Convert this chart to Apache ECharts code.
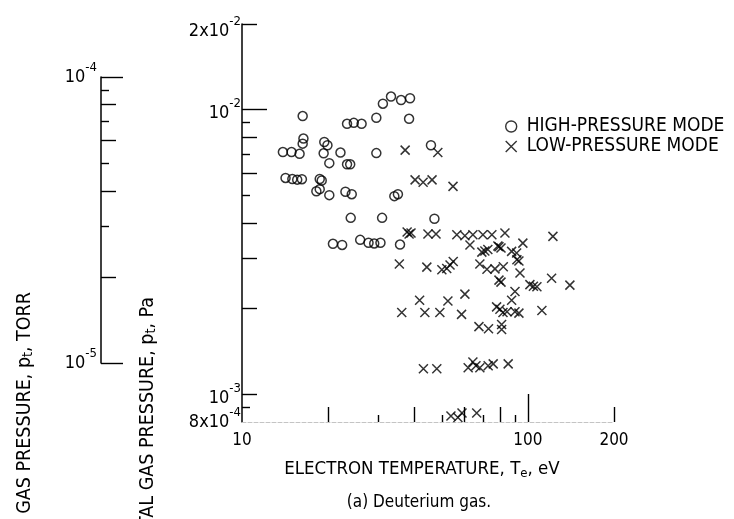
<!DOCTYPE html>
<html>
<head>
<meta charset="utf-8">
<script src="https://cdn.jsdelivr.net/npm/echarts@6/dist/echarts.min.js"></script>
<style>
  html, body { margin: 0; padding: 0; background: #fff; }
  #chart { width: 734px; height: 519px; }
</style>
</head>
<body>
<div id="chart"></div>
<script>
// high-pressure mode (circles): electron temperature eV, total pressure Pa
const hpTemp = [33.2, 31.1, 36.0, 38.7, 29.5, 38.4, 16.3, 23.3, 24.6, 26.2,
  16.4, 16.3, 13.9, 14.9, 15.9, 19.4, 19.9, 19.3, 22.1, 20.2,
  23.3, 23.9, 29.5, 45.8, 14.2, 15.0, 15.6, 16.2, 18.7, 19.0,
  18.2, 18.7, 20.2, 23.0, 24.2, 34.1, 35.1, 24.0, 30.9, 47.1,
  20.8, 22.4, 25.9, 27.7, 29.0, 30.5, 35.7];
const hpPressure = [0.01112, 0.0105, 0.01081, 0.01097, 0.00937, 0.00929, 0.0095, 0.00892, 0.00899, 0.00892,
  0.00792, 0.0076, 0.0071, 0.0071, 0.0070, 0.0077, 0.0075, 0.00703, 0.00707, 0.00649,
  0.00643, 0.00643, 0.00704, 0.0075, 0.00576, 0.00571, 0.00568, 0.0057, 0.00571, 0.00564,
  0.00517, 0.00526, 0.00501, 0.00515, 0.00505, 0.00497, 0.00505, 0.00417, 0.00417, 0.00414,
  0.00338, 0.00335, 0.00349, 0.00341, 0.00339, 0.00341, 0.00336];

// low-pressure mode (crosses)
const lpTemp = [37.2, 48.4, 40.3, 43.0, 46.2, 54.7,
  37.8, 38.4, 39.0, 44.7, 47.7, 56.4, 60.2, 64.2, 69.6, 74.8, 83.1, 122.3, 96.0,
  62.7, 69.0, 70.7, 72.4, 78.5, 80.5, 79.2, 87.7, 91.3,
  35.5, 44.3, 50.0, 52.0, 53.4, 54.8, 67.9, 71.9, 76.7, 82.0, 91.5, 93.0, 93.8,
  79.2, 80.5, 101.6, 104.5, 107.5, 121.0, 140.2,
  60.2, 41.8, 52.5, 36.2, 43.6, 49.2, 58.6, 90.1, 87.7, 77.7, 79.8, 81.8, 84.5, 90.1, 93.0, 111.9,
  67.4, 72.8, 80.9, 80.9,
  43.1, 48.0, 61.8, 64.2, 65.8, 67.9, 72.6, 75.6, 85.3,
  53.8, 56.9, 58.8, 66.2];
const lpPressure = [0.00721, 0.00707, 0.00567, 0.00556, 0.00567, 0.00538,
  0.00372, 0.00366, 0.00369, 0.00366, 0.00366, 0.00364, 0.00361, 0.00364, 0.00364, 0.00364, 0.00369, 0.00359, 0.0034,
  0.00335, 0.00316, 0.00319, 0.00323, 0.00332, 0.00327, 0.0033, 0.00318, 0.00314,
  0.00287, 0.0028, 0.00274, 0.00277, 0.00285, 0.00293, 0.00287, 0.00275, 0.00276, 0.00281, 0.00297, 0.00294, 0.00267,
  0.00252, 0.00248, 0.00243, 0.0024, 0.00239, 0.00256, 0.00242,
  0.00225, 0.00214, 0.00213, 0.00194, 0.00194, 0.00194, 0.00191, 0.0023, 0.00214, 0.00203, 0.00199, 0.00194, 0.00195, 0.00195, 0.00193, 0.00197,
  0.00173, 0.0017, 0.00176, 0.00169,
  0.00123, 0.00123, 0.00124, 0.0013, 0.00126, 0.00124, 0.00126, 0.00128, 0.00128,
  0.00084, 0.00083, 0.00086, 0.00086];

// axis ticks and labels
const teLabelValues = [10, 100, 200];
const teLabelText = ['10', '100', '200'];
const teTicksLong = [100];
const teTicksMid = [20, 40, 60, 80, 200];
const teTicksShort = [30, 50, 70, 90];

const paLabelValues = [0.01, 0.001];
const paLabelText = ['10{s|-2}', '10{s|-3}'];
const paMaxLabelValues = [0.02];
const paMaxLabelText = ['2x10{s|-2}'];
const paMinLabelValues = [0.0008];
const paMinLabelText = ['8x10{s|-4}'];
const paTicksLong = [0.01];
const paTicksMid = [0.02, 0.008, 0.006, 0.004, 0.003, 0.002, 0.001];
const paTicksShort = [0.009, 0.007, 0.005, 0.0009];

const torrLabelValues = [1e-4, 1e-5];
const torrLabelText = ['10{s|-4}', '10{s|-5}'];
const torrTicksLong = [1e-4, 1e-5];
const torrTicksMid = [8e-5, 6e-5, 4e-5, 2e-5];
const torrTicksShort = [9e-5, 7e-5, 5e-5, 3e-5];

const FONT = "'DejaVu Sans Condensed', 'DejaVu Sans', sans-serif";
const INK = '#000';

const pickLabel = (values, texts) => v => {
  for (let i = 0; i < values.length; i += 1) {
    if (Math.abs(Math.log10(v) - Math.log10(values[i])) < 1e-6) return texts[i];
  }
  return '';
};

const supRich = { s: { fontSize: 13, lineHeight: 10, verticalAlign: 'top', fontFamily: FONT, color: INK } };

// drop = extra top padding, pushes the label down by half of it
const yLabelStyle = (values, texts, margin, drop) => ({
  customValues: values,
  formatter: pickLabel(values, texts),
  margin,
  hideOverlap: false,
  fontFamily: FONT,
  fontSize: 18,
  lineHeight: 32,
  padding: [drop || 0, 0, 0, 0],
  color: INK,
  rich: supRich,
});

const tickAxis = (grid, min, max, values, len, position, label) => ({
  type: 'log',
  gridIndex: grid,
  position,
  min,
  max,
  axisLine: { show: false, onZero: false },
  axisTick: { show: true, inside: true, length: len, customValues: values, lineStyle: { color: INK, width: 1.4 } },
  axisLabel: label || { show: false },
  splitLine: { show: false },
  minorTick: { show: false },
});

const xAxes = [
  {
    type: 'log',
    gridIndex: 0,
    position: 'bottom',
    min: 10,
    max: 200,
    axisLine: { show: true, onZero: false, lineStyle: { color: '#c4c4c4', width: 1, type: 'dashed' } },
    axisTick: { show: true, inside: true, length: 28, customValues: teTicksLong, lineStyle: { color: INK, width: 1.4 } },
    axisLabel: {
      customValues: teLabelValues,
      formatter: pickLabel(teLabelValues, teLabelText),
      margin: 10,
      hideOverlap: false,
      fontFamily: FONT,
      fontSize: 17,
      color: INK,
    },
    splitLine: { show: false },
    name: 'ELECTRON TEMPERATURE, T{e|e}, eV',
    nameLocation: 'middle',
    nameGap: 36,
    nameTextStyle: {
      fontFamily: FONT,
      fontSize: 18.5,
      color: INK,
      lineHeight: 22,
      padding: [0, 12, 0, 0],
      rich: { e: { fontSize: 13, lineHeight: 13, verticalAlign: 'bottom', fontFamily: FONT, color: INK } },
    },
  },
  tickAxis(0, 10, 200, teTicksMid, 15, 'bottom'),
  tickAxis(0, 10, 200, teTicksShort, 7, 'bottom'),
  { type: 'value', gridIndex: 1, show: false, min: 0, max: 1 },
];

const yAxes = [
  {
    type: 'log',
    gridIndex: 0,
    position: 'left',
    min: 0.0008,
    max: 0.02,
    axisLine: { show: true, onZero: false, lineStyle: { color: INK, width: 1.5 } },
    axisTick: { show: true, inside: true, length: 25, customValues: paTicksLong, lineStyle: { color: INK, width: 1.4 } },
    axisLabel: yLabelStyle(paLabelValues, paLabelText, 1, 7),
    splitLine: { show: false },
  },
  tickAxis(0, 0.0008, 0.02, paTicksMid, 15, 'left', yLabelStyle(paMaxLabelValues, paMaxLabelText, 1, 14)),
  tickAxis(0, 0.0008, 0.02, paTicksShort, 8, 'left', yLabelStyle(paMinLabelValues, paMinLabelText, 1, 0)),
  {
    type: 'log',
    gridIndex: 1,
    position: 'left',
    min: 1e-5,
    max: 1e-4,
    axisLine: { show: true, onZero: false, lineStyle: { color: INK, width: 1.5 } },
    axisTick: { show: true, inside: true, length: 22, customValues: torrTicksLong, lineStyle: { color: INK, width: 1.4 } },
    axisLabel: yLabelStyle(torrLabelValues, torrLabelText, 4, 0),
    splitLine: { show: false },
  },
  tickAxis(1, 1e-5, 1e-4, torrTicksMid, 15, 'left'),
  tickAxis(1, 1e-5, 1e-4, torrTicksShort, 8, 'left'),
];

const hpData = hpTemp.map((t, i) => [t, hpPressure[i]]);
const lpData = lpTemp.map((t, i) => [t, lpPressure[i]]);

const rotatedTitle = (x, y, text) => ({
  type: 'text',
  x,
  y,
  rotation: Math.PI / 2,
  silent: true,
  style: {
    text,
    fill: INK,
    fontFamily: FONT,
    fontSize: 19.5,
    align: 'right',
    verticalAlign: 'middle',
    rich: { t: { fontSize: 14, lineHeight: 14, verticalAlign: 'bottom', fontFamily: FONT, fill: INK } },
  },
});

const chart = echarts.init(document.getElementById('chart'), null, { renderer: 'canvas' });
chart.setOption({
  backgroundColor: '#fff',
  animation: false,
  grid: [
    { left: 242, top: 24, width: 372, height: 398 },
    { left: 101, top: 77, width: 20, height: 286 },
  ],
  xAxis: xAxes,
  yAxis: yAxes,
  legend: {
    orient: 'vertical',
    left: 500,
    top: 112,
    itemWidth: 11,
    itemHeight: 11,
    itemGap: 1,
    selectedMode: false,
    itemStyle: { borderWidth: 1.4 },
    textStyle: { fontFamily: FONT, fontSize: 19, color: INK, padding: [0, 0, 0, 5] },
    data: ['HIGH-PRESSURE MODE', 'LOW-PRESSURE MODE'],
  },
  graphic: [
    rotatedTitle(25, 292, 'TOTAL GAS PRESSURE, p{t|t}, TORR'),
    rotatedTitle(148, 297, 'TOTAL GAS PRESSURE, p{t|t}, Pa'),
    {
      type: 'text',
      x: 419,
      y: 503,
      silent: true,
      style: { text: '(a) Deuterium gas.', fill: INK, fontFamily: FONT, fontSize: 17, align: 'center', verticalAlign: 'middle' },
    },
  ],
  series: [
    {
      name: 'HIGH-PRESSURE MODE',
      type: 'scatter',
      xAxisIndex: 0,
      yAxisIndex: 0,
      symbol: 'circle',
      symbolSize: 9,
      itemStyle: { color: 'rgba(0,0,0,0)', borderColor: INK, borderWidth: 1.5 },
      data: hpData,
    },
    {
      name: 'LOW-PRESSURE MODE',
      type: 'scatter',
      xAxisIndex: 0,
      yAxisIndex: 0,
      symbol: 'path://M0,0L10,10M10,0L0,10',
      symbolSize: 9,
      itemStyle: { color: 'rgba(0,0,0,0)', borderColor: INK, borderWidth: 1.5 },
      data: lpData,
    },
  ],
});
</script>
</body>
</html>
